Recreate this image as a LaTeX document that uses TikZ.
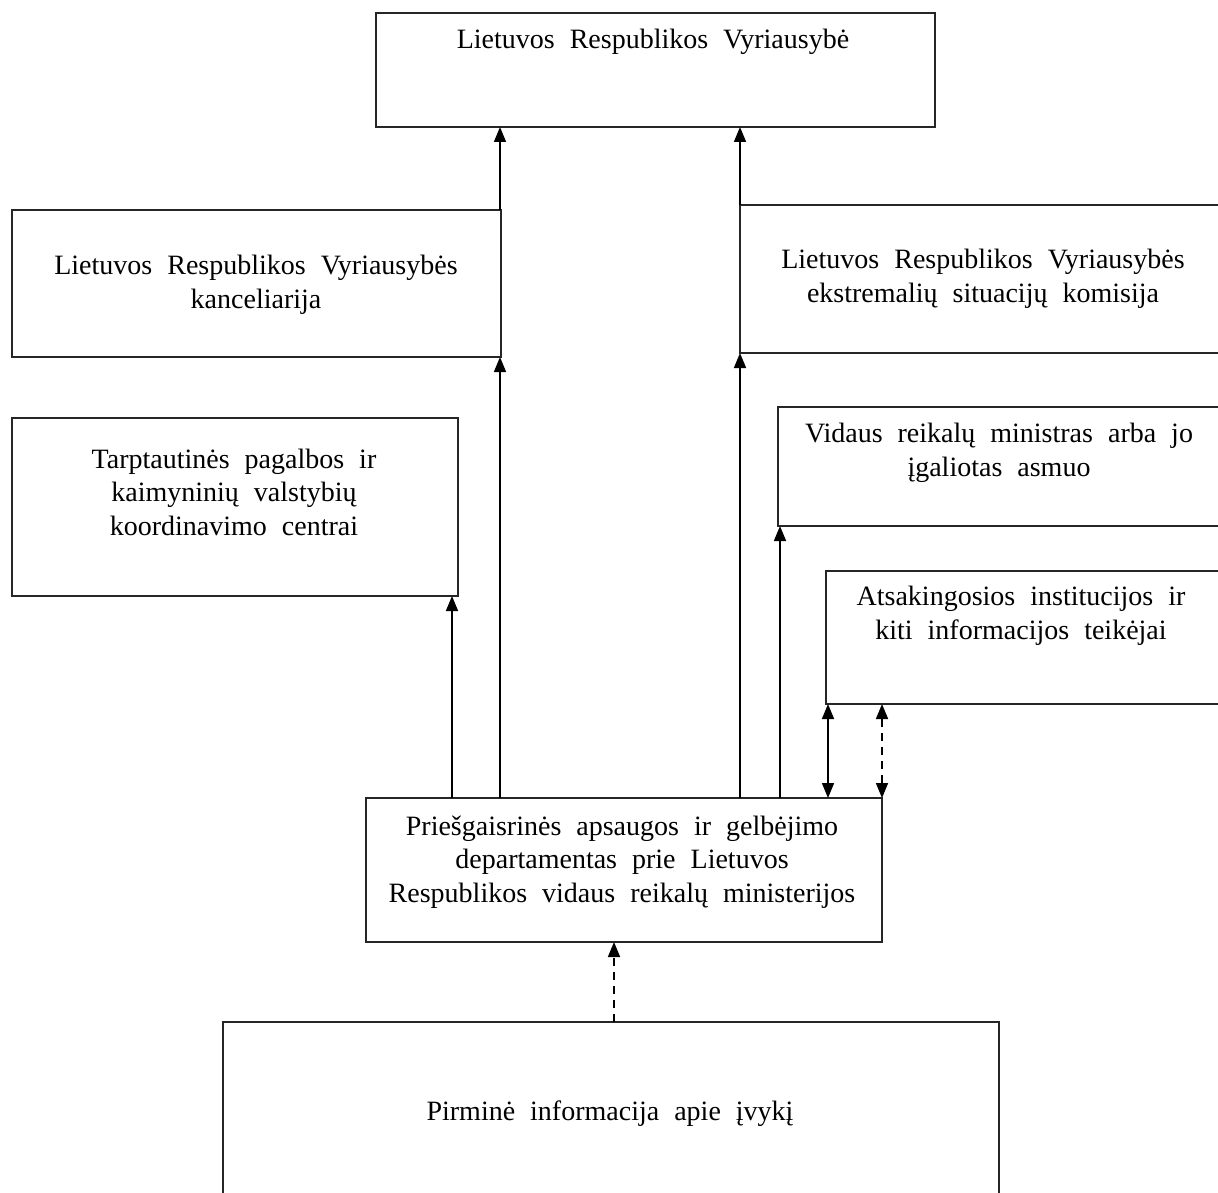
\documentclass[tikz,border=0pt]{standalone}
\usepackage{fontspec}
\setmainfont{Liberation Serif}
\usetikzlibrary{arrows.meta}
\newcommand\mytxtfont{\fontsize{28}{33.5}\selectfont\spaceskip=15pt plus 2pt minus 1pt\relax}
\begin{document}
\begin{tikzpicture}[x=1pt,y=-1pt,
  box/.style={draw=black!85, line width=1.8pt, anchor=north west, inner sep=0pt, outer sep=0pt},
  txt/.style={align=center, inner sep=0pt, font=\mytxtfont},
  arr/.style={line width=1.6pt, -{Triangle[length=15pt,width=12pt]}},
  darr/.style={line width=1.6pt, {Triangle[length=15pt,width=12pt]}-{Triangle[length=15pt,width=12pt]}},
  dashline/.style={dash pattern=on 8pt off 6pt}]
\useasboundingbox (0,0) rectangle (1218,1193);
\clip (0,0) rectangle (1218,1193);
% boxes
\node[box, minimum width=559, minimum height=114] (gov) at (376,13) {};
\node[box, minimum width=489, minimum height=147] (kanc) at (12,210) {};
\node[box, minimum width=520, minimum height=148] (esk) at (740,205) {};
\node[box, minimum width=446, minimum height=178] (tarp) at (12,418) {};
\node[box, minimum width=480, minimum height=119] (vrm) at (778,407) {};
\node[box, minimum width=430, minimum height=133] (ats) at (826,571) {};
\node[box, minimum width=516, minimum height=144] (pagd) at (366,798) {};
\node[box, minimum width=776, minimum height=200] (pirm) at (223,1022) {};
% texts
\node[txt] (tgov) at (653,42) {Lietuvos Respublikos Vyriausybė};
\node[txt] (tkanc) at (256,285) {Lietuvos Respublikos Vyriausybės\\kanceliarija};
\node[txt] (tesk) at (983,279) {Lietuvos Respublikos Vyriausybės\\ekstremalių situacijų komisija};
\node[txt] (ttarp) at (234,492) {Tarptautinės pagalbos ir\\kaimyninių valstybių\\koordinavimo centrai};
\node[txt] (tvrm) at (999,453) {Vidaus reikalų ministras arba jo\\įgaliotas asmuo};
\node[txt] (tats) at (1021,616) {Atsakingosios institucijos ir\\kiti informacijos teikėjai};
\node[txt] (tpagd) at (622,862) {Priešgaisrinės apsaugos ir gelbėjimo\\departamentas prie Lietuvos\\Respublikos vidaus reikalų ministerijos};
\node[txt] (tpirm) at (610,1114) {Pirminė informacija apie įvykį};
% connectors
\draw[arr] (pagd.north -| 452,0) -- (tarp.south -| 452,0);
\draw[arr] (pagd.north -| 500,0) -- (kanc.south -| 500,0);
\draw[arr] (kanc.north -| 500,0) -- (gov.south -| 500,0);
\draw[arr] (pagd.north -| 740,0) -- (esk.south -| 740,0);
\draw[arr] (esk.north -| 740,0) -- (gov.south -| 740,0);
\draw[arr] (pagd.north -| 780,0) -- (vrm.south -| 780,0);
\draw[darr] (pagd.north -| 828,0) -- (ats.south -| 828,0);
\draw[darr, dashline] (pagd.north -| 882,0) -- (ats.south -| 882,0);
\draw[arr, dashline] (pirm.north -| 614,0) -- (pagd.south -| 614,0);
\end{tikzpicture}
\end{document}
